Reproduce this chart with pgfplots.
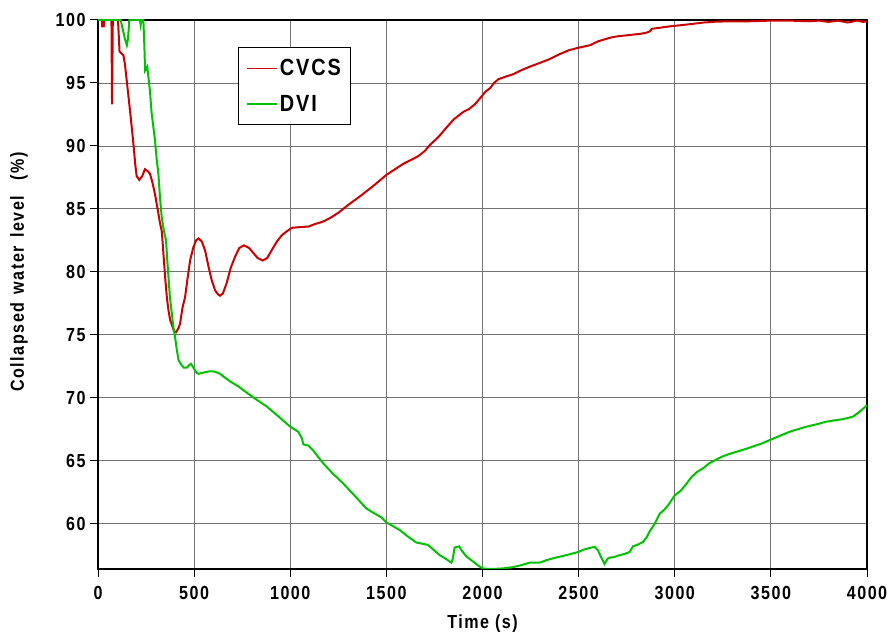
\documentclass[border=0pt]{standalone}
\usepackage{fontspec}
\setmainfont{Liberation Sans}[FakeStretch=0.85, LetterSpace=8]
\usepackage{pgfplots}
\pgfplotsset{compat=1.18}
\definecolor{cvcs}{RGB}{204,0,0}
\definecolor{dvi}{RGB}{0,194,0}
\pgfplotstableread{
t y
0 100
20 100
22 99.5
30 99.5
32 100
70 100
73 93.3
77 100
104 100
112 97.5
118 97.4
132 97.2
140 96.5
158 94.0
170 92.3
184 90.2
194 88.5
201 87.6
215 87.3
230 87.6
244 88.15
258 88.0
270 87.8
283 87.1
296 86.2
310 85.0
322 83.9
332 83.2
340 81.5
349 79.6
358 78.0
366 77.0
375 76.2
384 75.8
395 75.3
406 75.2
418 75.5
427 75.9
440 77.2
453 78.0
466 79.5
479 80.9
495 81.9
510 82.5
523 82.65
540 82.4
557 81.7
575 80.4
592 79.3
610 78.5
625 78.2
635 78.1
650 78.3
669 79.1
690 80.3
713 81.2
735 81.9
759 82.1
785 81.9
808 81.5
830 81.1
857 80.9
880 81.1
903 81.7
930 82.4
956 82.9
980 83.2
1009 83.5
1050 83.55
1095 83.6
1130 83.8
1173 84.0
1210 84.3
1251 84.7
1300 85.3
1363 86.0
1430 86.8
1500 87.7
1550 88.2
1590 88.6
1630 88.9
1667 89.2
1700 89.6
1728 90.1
1770 90.7
1815 91.5
1850 92.1
1875 92.4
1900 92.7
1927 92.9
1960 93.3
1988 93.8
2015 94.3
2040 94.6
2060 95.0
2083 95.3
2120 95.5
2161 95.7
2200 96.0
2247 96.3
2300 96.6
2350 96.9
2403 97.3
2450 97.6
2500 97.8
2560 98.0
2600 98.3
2665 98.6
2700 98.7
2760 98.8
2820 98.9
2855 99.0
2870 99.1
2881 99.3
2930 99.4
2976 99.5
3040 99.6
3097 99.7
3150 99.8
3218 99.87
3300 99.9
3392 99.9
3500 99.95
3600 99.95
3700 99.9
3750 99.95
3800 99.85
3850 99.95
3900 99.8
3950 99.95
3980 99.85
4000 99.9
}\cvcsdata
\pgfplotstableread{
t y
0 100
118 100
125 99.5
140 98.5
150 98.0
156 98.5
163 100
218 100
222 99.6
226 100
236 100
241 98
245 96.0
256 96.3
262 95.5
270 94.4
279 92.6
288 91.5
296 90.5
305 89.0
314 87.8
322 86.0
331 84.4
340 83.5
348 82.9
354 82.5
360 81.0
367 79.5
374 78.0
384 76.7
392 75.6
401 74.8
410 73.8
419 73.0
430 72.7
445 72.4
462 72.4
475 72.6
483 72.7
492 72.5
500 72.3
512 72.0
523 71.9
549 72.0
580 72.1
601 72.1
620 72.0
635 71.9
660 71.6
687 71.3
730 70.9
774 70.4
820 69.9
878 69.3
940 68.5
1000 67.7
1042 67.3
1060 66.8
1068 66.3
1094 66.2
1120 65.8
1171 64.8
1220 64.0
1275 63.2
1330 62.3
1396 61.2
1440 60.8
1474 60.5
1500 60.1
1569 59.5
1610 59.0
1656 58.5
1690 58.4
1717 58.3
1740 58.0
1777 57.5
1810 57.2
1838 56.9
1845 57.2
1855 58.1
1878 58.2
1895 57.8
1916 57.4
1950 57.0
1975 56.7
2000 56.45
2030 56.4
2055 56.4
2110 56.45
2159 56.55
2200 56.7
2245 56.9
2297 56.9
2332 57.1
2380 57.3
2436 57.5
2498 57.75
2520 57.9
2540 58.0
2565 58.1
2583 58.15
2600 57.9
2615 57.4
2635 56.8
2650 57.2
2661 57.3
2685 57.35
2713 57.5
2740 57.6
2765 57.75
2783 58.2
2810 58.35
2835 58.55
2853 58.9
2870 59.4
2896 60.0
2922 60.8
2945 61.1
2965 61.45
3000 62.25
3030 62.6
3052 63.0
3087 63.7
3115 64.1
3147 64.4
3180 64.8
3217 65.1
3250 65.35
3286 65.55
3330 65.75
3373 65.95
3410 66.15
3451 66.35
3480 66.55
3511 66.75
3550 67.0
3598 67.3
3640 67.5
3685 67.7
3740 67.9
3789 68.1
3830 68.2
3875 68.3
3900 68.4
3927 68.5
3945 68.7
3962 68.9
3985 69.2
4000 69.4
}\dvidata
\begin{document}
\begin{tikzpicture}
\useasboundingbox (0,0) rectangle (891bp,637bp);
\begin{axis}[
  at={(98bp,68bp)}, anchor=south west,
  scale only axis, width=769bp, height=549bp,
  xmin=0, xmax=4000, ymin=56.4, ymax=100,
  xtick={0,500,...,4000}, ytick={60,65,...,100},
  grid=major,
  major grid style={black!55, line width=0.8bp},
  axis line style={line width=1.2bp},
  xtick pos=bottom, ytick pos=left, tick align=outside,
  major tick length=8bp,
  tick style={black, line width=1bp},
  /pgf/number format/assume math mode=true,
  /pgf/number format/set thousands separator={},
  tick label style={font=\fontsize{19}{20}\selectfont\bfseries},
  xticklabel style={yshift=-6bp},
  yticklabel style={xshift=-1bp},
  label style={font=\fontsize{19}{20}\selectfont\bfseries},
  xlabel={Time (s)},
  ylabel={Collapsed\hspace{0.45em}water\hspace{0.45em}level\hspace{0.8em}(\%)},
  xlabel style={at={(axis description cs:0.5,-0.1002)}, anchor=center},
  ylabel style={at={(axis description cs:-0.1027,0.541)}, anchor=center},
  legend style={at={(0.182,0.951)}, anchor=north west, draw=black,
    line width=1bp, font=\fontsize{23.5}{25}\selectfont\bfseries,
    inner xsep=8bp, inner ysep=10bp, row sep=14bp, cells={anchor=west}},
  legend image code/.code={\draw[#1, line width=1.5bp] (0bp,0bp) -- (30bp,0bp);},
]
\addplot[color=cvcs, line width=2bp] table[x=t,y=y] {\cvcsdata};
\addlegendentry{CVCS\hspace{0.8em}}
\addplot[color=dvi, line width=2bp] table[x=t,y=y] {\dvidata};
\addlegendentry{DVI}
\end{axis}
\end{tikzpicture}
\end{document}
